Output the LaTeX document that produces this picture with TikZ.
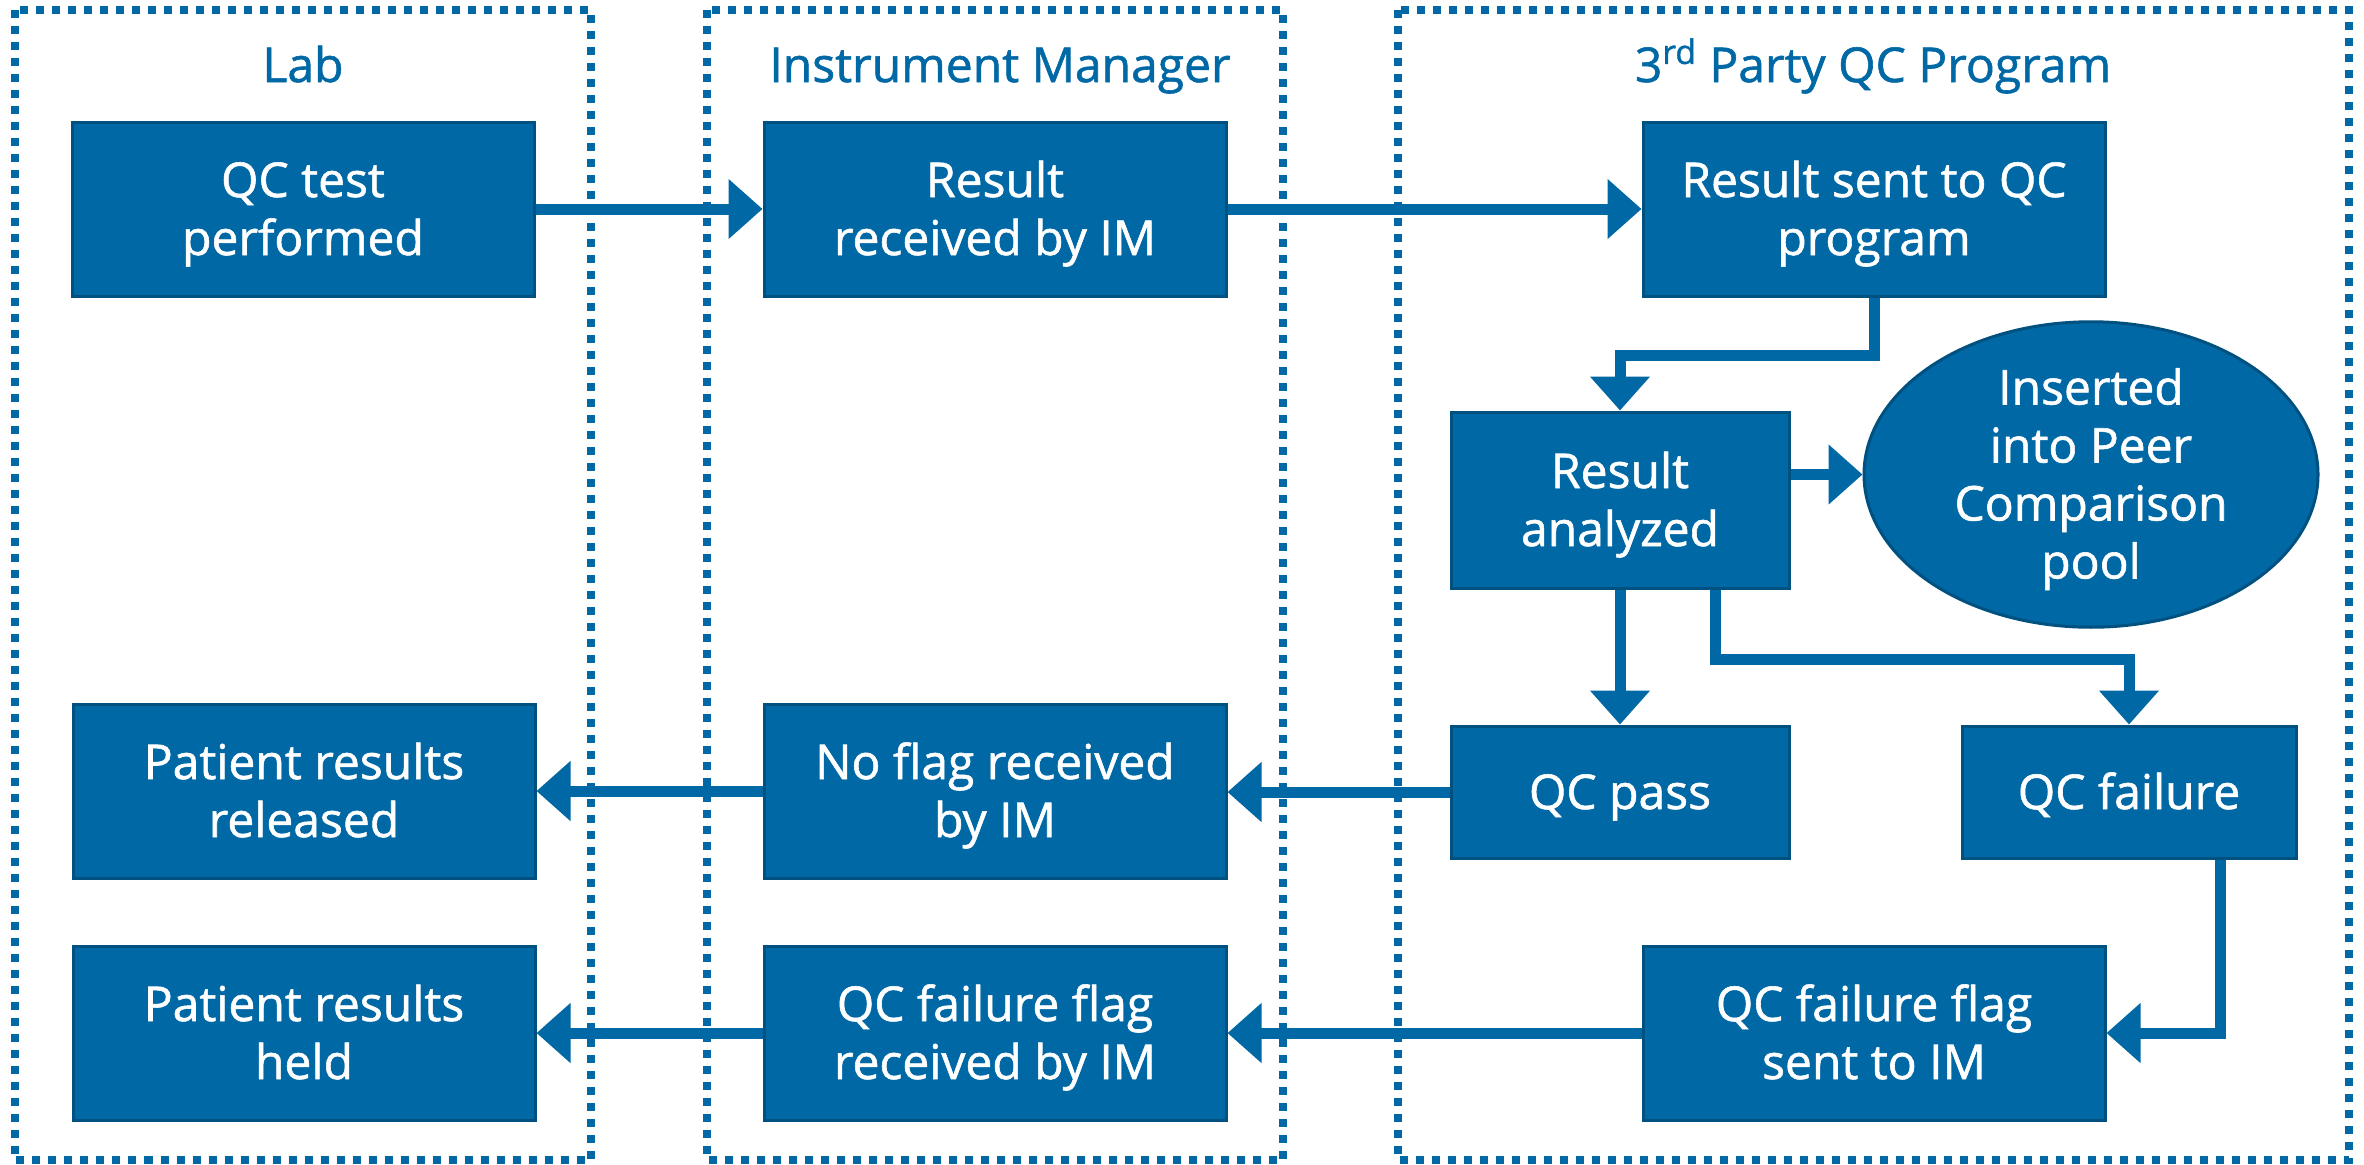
\documentclass[tikz,border=0pt]{standalone}
\usepackage{fontspec}
\setmainfont{Open Sans}[FakeBold=1.2]
\usetikzlibrary{arrows.meta,shapes.geometric,calc}
\definecolor{qcblue}{RGB}{0,104,165}
\definecolor{qcedge}{RGB}{0,80,128}
\begin{document}
\begin{tikzpicture}[x=0.5pt,y=-0.5pt,
  procbox/.style={draw=qcedge, line width=1.5pt, fill=qcblue, text=white,
    align=center, inner sep=0pt, text height=48pt, text depth=2pt,
    font=\fontsize{24}{29}\selectfont},
  oneline/.style={text height=19pt},
  fourlines/.style={text height=106pt},
  widebox/.style={procbox, minimum width=231pt, minimum height=87pt},
  narrowbox/.style={procbox, minimum width=169pt},
  poolshape/.style={procbox, fourlines, ellipse, minimum width=227pt, minimum height=126.5pt},
  lane/.style={draw=qcblue, line width=4pt, dash pattern=on 4pt off 4pt},
  lanetitle/.style={text=qcblue, anchor=base, inner sep=0pt, font=\fontsize{24}{29}\selectfont},
  flow/.style={draw=qcblue, line width=5.5pt, -{Triangle[length=17pt,width=29pt]}}]
\useasboundingbox (0,0) rectangle (2364,1164);
% lanes
\draw[lane] (15,9.5) rectangle (591,1160);
\draw[lane] (707,9.5) rectangle (1283,1160);
\draw[lane] (1398,9.5) rectangle (2349,1160);
\node[lanetitle] (tlab) at (303,82) {Lab};
\node[lanetitle] (tim) at (1000,82) {Instrument Manager};
\node[lanetitle] (tqc) at (1873,82) {3\textsuperscript{rd} Party QC Program};
% boxes
\node[widebox] (qct) at (303,209) {QC test\\performed};
\node[widebox] (rim) at (995,209) {Result\\received by IM};
\node[widebox] (rsq) at (1874,209) {Result sent to QC\\program};
\node[narrowbox, minimum height=88pt] (ra) at (1620,500) {Result\\analyzed};
\node[poolshape] (pool) at (2091,474.5) {Inserted\\into Peer\\Comparison\\pool};
\node[narrowbox, oneline, minimum height=66pt] (qcp) at (1620,792) {QC pass};
\node[narrowbox, oneline, minimum width=167pt, minimum height=66pt] (qcf) at (2129,792) {QC failure};
\node[widebox] (prr) at (304,791) {Patient results\\released};
\node[widebox] (nfr) at (995,791) {No flag received\\by IM};
\node[widebox] (prh) at (304,1033) {Patient results\\held};
\node[widebox] (qffr) at (995,1033) {QC failure flag\\received by IM};
\node[widebox] (qffs) at (1874,1033) {QC failure flag\\sent to IM};
% connectors
\draw[flow] (qct.east) -- (rim.west);
\draw[flow] (rim.east) -- (rsq.west);
\draw[flow] (rsq.south) -- ++(0,58) -| (ra.north);
\draw[flow] (pool.west -| ra.east) -- (pool.west);
\draw[flow] (ra.south) -- (qcp.north);
\draw[flow] ($(ra.south)+(95,0)$) -- ++(0,70) -| (qcf.north);
\draw[flow] (qcp.west) -- (qcp.west -| nfr.east);
\draw[flow] (nfr.west) -- (prr.east);
\draw[flow] ($(qcf.south)+(91,0)$) |- (qffs.east);
\draw[flow] (qffs.west) -- (qffr.east);
\draw[flow] (qffr.west) -- (prh.east);
\end{tikzpicture}
\end{document}
